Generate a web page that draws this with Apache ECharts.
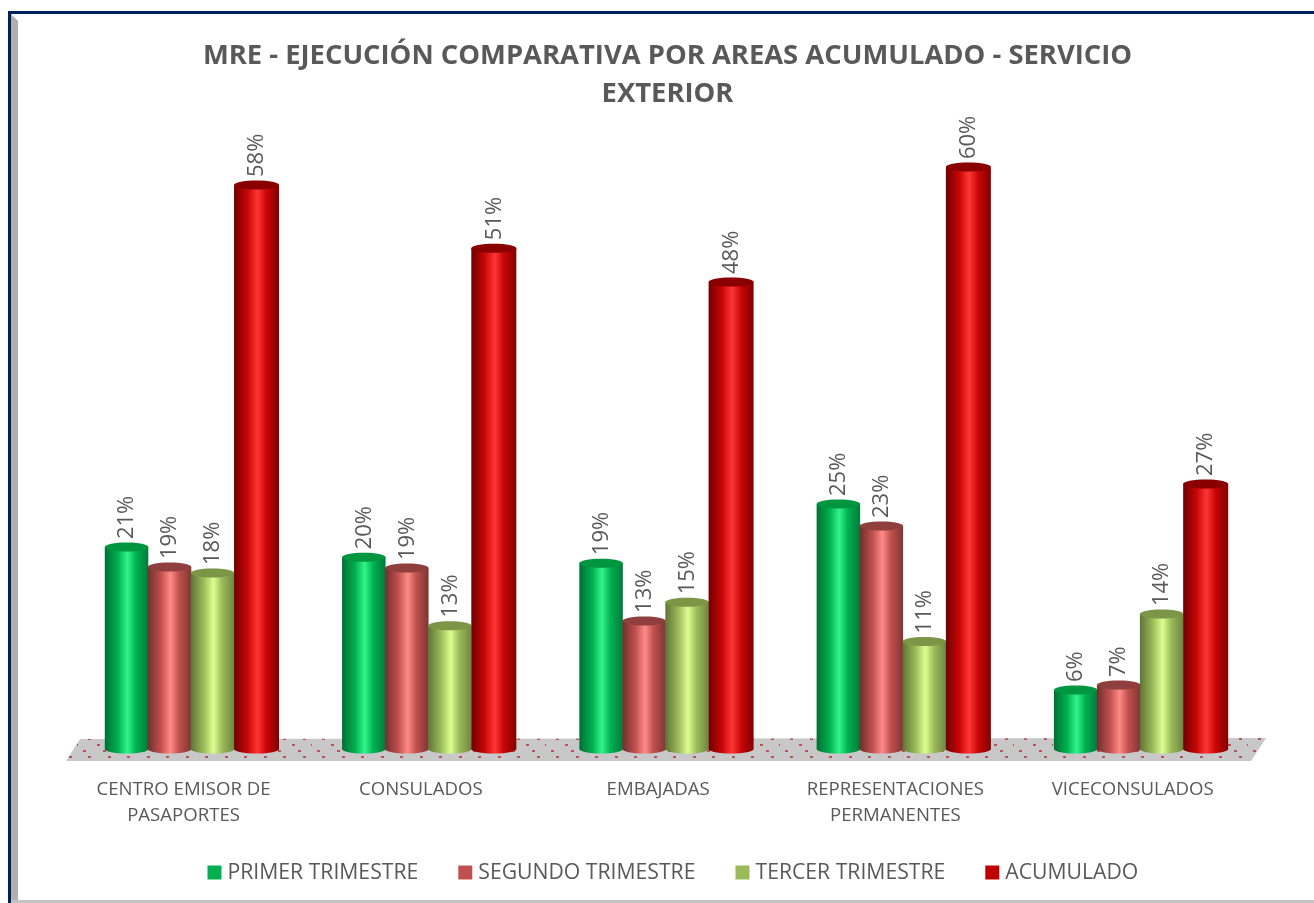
<!DOCTYPE html>
<html><head><meta charset="utf-8">
<style>html,body{margin:0;padding:0;background:#fff}#c{width:1314px;height:903px}</style>
<script src="https://cdn.jsdelivr.net/npm/echarts@6/dist/echarts.min.js"></script>
</head><body><div id="c"></div>
<script>
const titleText = 'MRE - EJECUCIÓN COMPARATIVA POR AREAS ACUMULADO - SERVICIO\nEXTERIOR';
const categories = ['CENTRO EMISOR DE\nPASAPORTES','CONSULADOS','EMBAJADAS','REPRESENTACIONES\nPERMANENTES','VICECONSULADOS'];
const primerTrimestre = [20.65,19.6,19.0,25.05,6.03];
const segundoTrimestre = [18.6,18.5,13.1,22.8,6.54];
const tercerTrimestre = [18.0,12.6,15.0,11.0,13.8];
const acumulado = [57.67,51.2,47.75,59.5,27.1];

const TXT = '#595959', FONT = '"Open Sans"';
function cyl(edgeL, mid, bright, edgeR){
  return {type:'linear',x:0,y:0,x2:1,y2:0,colorStops:[
    {offset:0,color:edgeL},{offset:.3,color:mid},{offset:.52,color:bright},{offset:.72,color:mid},{offset:1,color:edgeR}]};
}
const looks = [
  {name:'PRIMER TRIMESTRE', data:primerTrimestre, off:-65, w:43.5, legend:'#00b050', top:'#00953f', grad:cyl('#006f35','#00b050','#30f58c','#007a3c')},
  {name:'SEGUNDO TRIMESTRE', data:segundoTrimestre, off:-22, w:43.5, legend:'#c0504d', top:'#8f3f3d', grad:cyl('#6f2f2d','#c0504d','#ff8a88','#7d3634')},
  {name:'TERCER TRIMESTRE', data:tercerTrimestre, off:21, w:43.5, legend:'#9bbb59', top:'#7c9648', grad:cyl('#5f7436','#9bbb59','#dcff90','#6d853f')},
  {name:'ACUMULADO', data:acumulado, off:65, w:45, legend:'#c00000', top:'#8a0000', grad:cyl('#700000','#c80606','#ff3535','#800000')}
];
const RY = 4.5;
function makeSeries(l, i){
  return {
    type:'custom', name:l.name, z:2+i, clip:false,
    itemStyle:{color:l.legend},
    encode:{x:0,y:1},
    data:l.data.map((v,k)=>[k,v]),
    renderItem(params, api){
      const top = api.coord([api.value(0), api.value(1)]);
      const base = api.coord([api.value(0), 0]);
      const cx = top[0]+l.off, hw = l.w/2;
      return {type:'group', children:[
        {type:'ellipse', shape:{cx:cx,cy:base[1],rx:hw,ry:RY}, style:{fill:l.grad}},
        {type:'rect', shape:{x:cx-hw,y:top[1],width:l.w,height:base[1]-top[1]}, style:{fill:l.grad}},
        {type:'ellipse', shape:{cx:cx,cy:top[1],rx:hw,ry:RY}, style:{fill:l.top}},
        {type:'text', x:cx+0.5, y:top[1]-8, rotation:Math.PI/2,
          style:{text:Math.round(api.value(1))+'%', align:'left', verticalAlign:'middle',
                 font:'22px '+FONT, fill:TXT}}
      ]};
    }
  };
}
// floor texture: staggered rows of small red dots
const pat = document.createElement('canvas'); pat.width=39; pat.height=18;
(function(){const g=pat.getContext('2d');g.fillStyle='#c8c8c8';g.fillRect(0,0,39,18);g.fillStyle='rgba(176,32,48,0.7)';
 [[10,0],[30,0],[19,6],[38,6],[5,12],[25,12]].forEach(p=>g.fillRect(p[0],p[1],3,2));})();

const chart = echarts.init(document.getElementById('c'),null,{renderer:'canvas',width:1314,height:903});
chart.setOption({
  animation:false, backgroundColor:'#fff',
  title:{text:titleText,left:662.5,top:32,textAlign:'center',
    textStyle:{color:TXT,fontFamily:FONT,fontWeight:'bold',fontSize:27.4,lineHeight:38}},
  legend:{left:207.5,top:862,padding:0,itemWidth:14,itemHeight:14,itemGap:40,icon:'rect',
    selectedMode:false,textStyle:{color:TXT,fontFamily:FONT,fontSize:21.2,padding:[0,0,0,1]},
    data:looks.map(l=>l.name)},
  grid:{left:72.9,right:54.7,top:64.4,bottom:154},
  xAxis:{type:'category',data:categories,axisLine:{show:false},axisTick:{show:false},
    axisLabel:{interval:0,color:TXT,fontFamily:FONT,fontSize:18.6,lineHeight:26,margin:28,padding:[0,16,0,0]}},
  yAxis:{type:'value',min:0,max:70,show:false,splitLine:{show:false}},
  graphic:{elements:[
    {type:'polygon',z:0,shape:{points:[[66,761],[80,739],[1266,738],[1251,761]]},style:{fill:{image:pat,repeat:'repeat'}}},
    {type:'rect',z:1,shape:{x:8,y:11,width:1306,height:3},style:{fill:'#002060'}},
    {type:'rect',z:1,shape:{x:8,y:11,width:3,height:892},style:{fill:'#002060'}},
    {type:'polygon',z:1,shape:{points:[[11,14],[18,21],[18,903],[11,903]]},style:{fill:'#b0b0b0'}},
    {type:'rect',z:1,shape:{x:11,y:900,width:1303,height:3},style:{fill:'#c4c4c4'}}
  ]},
  series:looks.map(makeSeries)
});
</script></body></html>
